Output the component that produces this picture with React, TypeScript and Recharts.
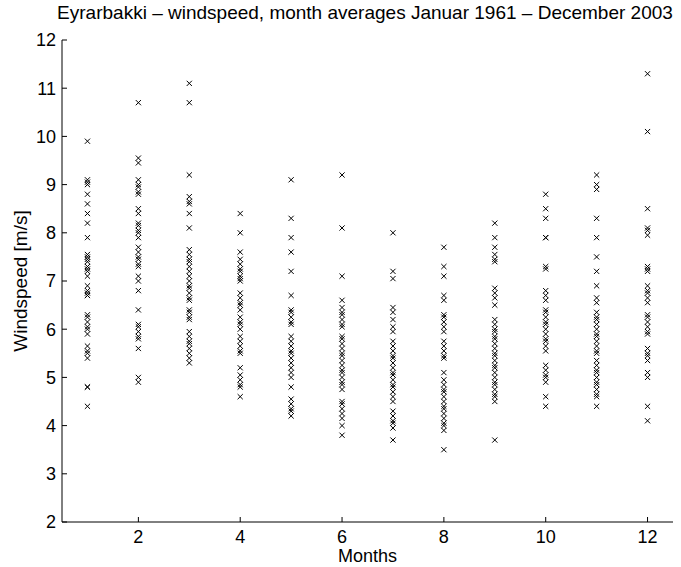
import React from 'react';
import { ScatterChart, Scatter, XAxis, YAxis, Label } from 'recharts';

const months = [1, 2, 3, 4, 5, 6, 7, 8, 9, 10, 11, 12];

const jan = [9.9, 9.1, 9.05, 9.0, 8.8, 8.6, 8.4, 8.2, 7.9, 7.55, 7.5, 7.45, 7.4, 7.3, 7.25, 7.2, 7.1, 6.9, 6.8, 6.75, 6.7, 6.7, 6.3, 6.25, 6.15, 6.05, 6.0, 5.9, 5.65, 5.55, 5.5, 5.4, 4.8, 4.8, 4.4];
const feb = [10.7, 9.55, 9.45, 9.1, 9.0, 8.95, 8.85, 8.8, 8.5, 8.4, 8.2, 8.15, 8.05, 8.0, 7.9, 7.7, 7.6, 7.5, 7.45, 7.35, 7.3, 7.1, 7.0, 6.8, 6.4, 6.1, 6.05, 5.95, 5.85, 5.8, 5.6, 5.0, 4.9];
const mar = [11.1, 10.7, 9.2, 8.75, 8.65, 8.6, 8.4, 8.1, 7.65, 7.55, 7.45, 7.4, 7.3, 7.2, 7.1, 7.0, 6.9, 6.85, 6.75, 6.65, 6.6, 6.4, 6.35, 6.25, 6.2, 5.95, 5.85, 5.75, 5.7, 5.6, 5.5, 5.4, 5.3];
const apr = [8.4, 8.0, 7.6, 7.45, 7.35, 7.25, 7.2, 7.1, 7.05, 7.0, 6.75, 6.65, 6.55, 6.5, 6.4, 6.25, 6.15, 6.1, 6.0, 5.85, 5.75, 5.65, 5.55, 5.5, 5.2, 5.05, 4.95, 4.85, 4.8, 4.6];
const may = [9.1, 8.3, 7.9, 7.6, 7.2, 6.7, 6.4, 6.35, 6.25, 6.15, 6.1, 5.85, 5.75, 5.65, 5.55, 5.5, 5.4, 5.3, 5.2, 5.1, 5.0, 4.8, 4.55, 4.45, 4.35, 4.3, 4.2];
const jun = [9.2, 8.1, 7.1, 6.6, 6.45, 6.35, 6.3, 6.2, 6.1, 6.05, 5.85, 5.8, 5.7, 5.6, 5.5, 5.45, 5.35, 5.25, 5.15, 5.1, 5.0, 4.9, 4.85, 4.75, 4.5, 4.45, 4.35, 4.25, 4.15, 4.0, 3.8];
const jul = [8.0, 7.2, 7.05, 6.45, 6.35, 6.2, 6.05, 5.95, 5.75, 5.65, 5.55, 5.45, 5.4, 5.3, 5.2, 5.1, 5.05, 4.95, 4.85, 4.8, 4.7, 4.6, 4.5, 4.3, 4.2, 4.1, 4.05, 3.95, 3.7];
const aug = [7.7, 7.3, 7.1, 6.7, 6.6, 6.3, 6.25, 6.15, 6.05, 5.95, 5.75, 5.65, 5.55, 5.45, 5.4, 5.1, 4.95, 4.85, 4.75, 4.7, 4.6, 4.5, 4.4, 4.35, 4.25, 4.15, 4.05, 4.0, 3.9, 3.5];
const sep = [8.2, 7.9, 7.7, 7.55, 7.45, 7.4, 6.85, 6.75, 6.65, 6.5, 6.2, 6.1, 6.0, 5.95, 5.85, 5.8, 5.7, 5.6, 5.5, 5.45, 5.35, 5.25, 5.2, 5.1, 5.0, 4.9, 4.85, 4.75, 4.65, 4.6, 4.5, 3.7];
const oct = [8.8, 8.5, 8.3, 7.9, 7.9, 7.3, 7.25, 6.8, 6.7, 6.6, 6.4, 6.35, 6.25, 6.15, 6.1, 6.0, 5.9, 5.8, 5.75, 5.65, 5.55, 5.25, 5.15, 5.05, 5.0, 4.9, 4.6, 4.4];
const nov = [9.2, 9.0, 8.9, 8.3, 7.9, 7.5, 7.2, 6.9, 6.65, 6.55, 6.35, 6.25, 6.2, 6.1, 6.0, 5.9, 5.85, 5.75, 5.65, 5.55, 5.5, 5.35, 5.25, 5.15, 5.1, 5.0, 4.9, 4.85, 4.75, 4.65, 4.6, 4.4];
const dec = [11.3, 10.1, 8.5, 8.1, 8.05, 7.95, 7.3, 7.25, 7.2, 6.9, 6.8, 6.75, 6.65, 6.55, 6.3, 6.25, 6.15, 6.05, 5.95, 5.9, 5.6, 5.5, 5.45, 5.35, 5.1, 5.0, 4.4, 4.1];

const seriesByMonth = [jan, feb, mar, apr, may, jun, jul, aug, sep, oct, nov, dec];

const xTicks = [2, 4, 6, 8, 10, 12];
const yTicks = [2, 3, 4, 5, 6, 7, 8, 9, 10, 11, 12];

const titleText = 'Eyrarbakki \u2013 windspeed, month averages Januar 1961 \u2013 December 2003';
const xLabelText = 'Months';
const yLabelText = 'Windspeed [m/s]';

const data = months.flatMap((m, i) => seriesByMonth[i].map((v) => ({ month: m, speed: v })));

const FONT = '"Liberation Sans", Arial, Helvetica, sans-serif';
const FS = 19;
const TFS = 18;
const MARGIN = 6;
const TICKLEN = 5;

const XTick = (props: any) => {
  const { x, y, payload } = props;
  const axisY = y - MARGIN;
  return (
    <g>
      <line x1={x} y1={axisY} x2={x} y2={axisY - TICKLEN} stroke="#000" strokeWidth={1} />
      <text x={x} y={axisY + 20.5} textAnchor="middle" fontSize={TFS} fontFamily={FONT} fill="#000">
        {payload.value}
      </text>
    </g>
  );
};

const YTick = (props: any) => {
  const { x, y, payload } = props;
  const axisX = x + MARGIN;
  return (
    <g>
      <line x1={axisX} y1={y} x2={axisX + TICKLEN} y2={y} stroke="#000" strokeWidth={1} />
      <text x={x} y={y + 6.4} textAnchor="end" fontSize={TFS} fontFamily={FONT} fill="#000">
        {payload.value}
      </text>
    </g>
  );
};

const XLabel = (props: any) => {
  const vb = props.viewBox;
  return (
    <text x={vb.x + vb.width / 2} y={vb.y + 40} textAnchor="middle" fontSize={TFS} fontFamily={FONT} fill="#000">
      {xLabelText}
    </text>
  );
};

const YLabel = (props: any) => {
  const vb = props.viewBox;
  const cx = vb.x + 27;
  const cy = vb.y + vb.height / 2;
  return (
    <text x={cx} y={cy} transform={`rotate(-90, ${cx}, ${cy})`} textAnchor="middle" fontSize={FS} fontFamily={FONT} fill="#000">
      {yLabelText}
    </text>
  );
};

const Cross = (props: any) => {
  const { cx, cy } = props;
  const r = 2.6;
  return (
    <path
      d={`M${cx - r},${cy - r}L${cx + r},${cy + r}M${cx - r},${cy + r}L${cx + r},${cy - r}`}
      stroke="#000"
      strokeWidth={1}
      fill="none"
    />
  );
};

export default function App() {
  return (
    <div style={{ position: 'absolute', left: 0, top: 0, width: 681, height: 567, background: '#fff' }}>
      <div
        style={{
          position: 'absolute',
          left: 55,
          width: 620,
          top: 2,
          textAlign: 'center',
          fontFamily: FONT,
          fontSize: FS,
          lineHeight: 'normal',
          whiteSpace: 'nowrap',
          color: '#000',
        }}
      >
        {titleText}
      </div>
      <ScatterChart width={681} height={567} margin={{ top: 40, right: 8, bottom: 0, left: 0 }}>
        <XAxis
          type="number"
          dataKey="month"
          domain={[0.5, 12.5]}
          ticks={xTicks}
          tickSize={0}
          tickMargin={MARGIN}
          tickLine={false}
          tick={<XTick />}
          axisLine={{ stroke: '#000' }}
          height={45}
          allowDataOverflow
        >
          <Label content={<XLabel />} />
        </XAxis>
        <YAxis
          type="number"
          dataKey="speed"
          domain={[2, 12]}
          ticks={yTicks}
          tickSize={0}
          tickMargin={MARGIN}
          tickLine={false}
          tick={<YTick />}
          axisLine={{ stroke: '#000' }}
          width={62}
          allowDataOverflow
        >
          <Label content={<YLabel />} />
        </YAxis>
        <Scatter data={data} shape={<Cross />} isAnimationActive={false} />
      </ScatterChart>
    </div>
  );
}
